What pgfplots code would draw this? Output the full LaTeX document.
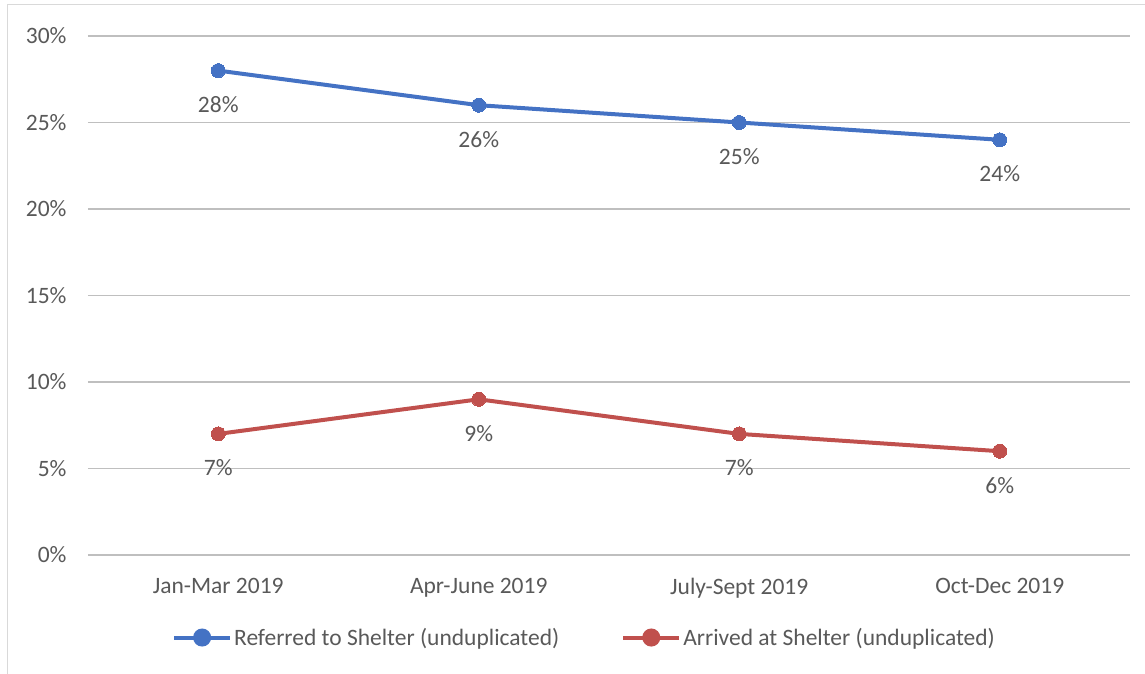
\documentclass[border=0pt]{standalone}
\usepackage{pgfplots}
\pgfplotsset{compat=1.18}
\usepackage{fontspec}
\setmainfont{Carlito}
\definecolor{ablue}{RGB}{68,114,196}
\definecolor{ared}{RGB}{192,80,77}
\definecolor{txt}{RGB}{89,89,89}
\definecolor{grid}{RGB}{217,217,217}
\begin{document}
\begin{tikzpicture}[x=1pt,y=1pt]
\path[use as bounding box] (0,0) rectangle (1145,673);
\draw[grid,line width=1pt] (7,-5) -- (7,668) -- (1150,668);
\begin{axis}[
  at={(88pt,118pt)}, anchor=south west,
  scale only axis, width=1042pt, height=519pt,
  xmin=-0.5, xmax=3.5, ymin=0, ymax=30,
  xtick={0,1,2,3},
  xticklabels={Jan-Mar 2019,Apr-June 2019,July-Sept 2019,Oct-Dec 2019},
  ytick={0,5,10,15,20,25,30},
  yticklabel={\pgfmathprintnumber{\tick}\%},
  /pgf/number format/assume math mode=true,
  xmajorgrids=false, ymajorgrids=true, grid style={grid,line width=1.3pt},
  axis line style={draw=none},
  major tick length=0pt,
  tick label style={font=\fontsize{23.5}{26}\selectfont, text=txt},
  yticklabel style={xshift=-18pt},
  xticklabel style={yshift=-20pt},
  clip=false,
  legend columns=2,
  legend style={at={(0.4765,-0.159)}, anchor=center, draw=none, fill=none,
    font=\fontsize{23.5}{26}\selectfont, text=txt,
    /tikz/every even column/.append style={column sep=60pt}},
  legend image code/.code={\draw[#1] (0pt,0pt) -- (56pt,0pt); \fill[#1] (28pt,0pt) circle (7pt);},
  nodes near coords={\pgfmathprintnumber{\pgfplotspointmeta}\%},
  nodes near coords style={font=\fontsize{23.5}{26}\selectfont, text=txt, anchor=center, yshift=-34pt},
  point meta=explicit,
]
\addplot[ablue, line width=4pt, mark=*, mark size=7pt, mark options={fill=ablue,draw=ablue,line width=0pt}]
  coordinates {(0,28)[28] (1,26)[26] (2,25)[25] (3,24)[24]};
\addlegendentry{Referred to Shelter (unduplicated)}
\addplot[ared, line width=4pt, mark=*, mark size=7pt, mark options={fill=ared,draw=ared,line width=0pt}]
  coordinates {(0,7)[7] (1,9)[9] (2,7)[7] (3,6)[6]};
\addlegendentry{Arrived at Shelter (unduplicated)}
\end{axis}
\end{tikzpicture}
\end{document}
